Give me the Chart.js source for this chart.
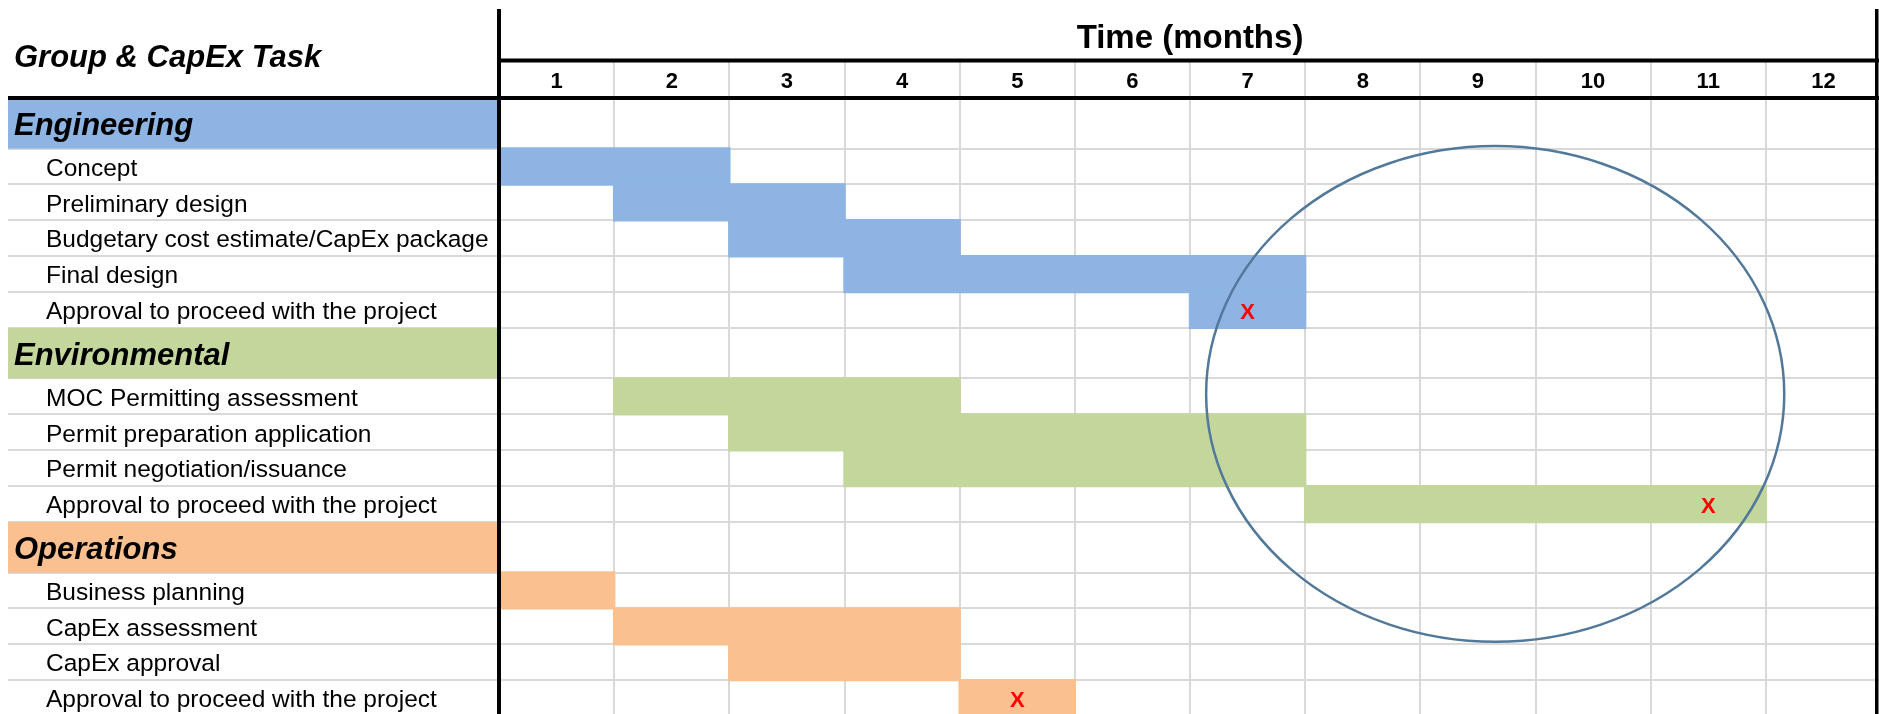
<!DOCTYPE html>
<html>
<head>
<meta charset="utf-8">
<script src="https://cdn.jsdelivr.net/npm/chart.js@4.4.1/dist/chart.umd.min.js"></script>
<style>
  html, body { margin: 0; padding: 0; background: #ffffff; overflow: hidden; }
  #wrap { width: 1881px; height: 716px; }
</style>
</head>
<body>
<div id="wrap"><canvas id="c" width="1881" height="716"></canvas></div>
<script>
// ---------------- data ----------------
const monthLabels = ['1', '2', '3', '4', '5', '6', '7', '8', '9', '10', '11', '12'];
const tableTitle = 'Group & CapEx Task';
const timeTitle = 'Time (months)';

const groupNames = ['Engineering', 'Environmental', 'Operations'];

const engineeringTasks = ['Concept', 'Preliminary design', 'Budgetary cost estimate/CapEx package', 'Final design', 'Approval to proceed with the project'];
const engineeringStart = [0, 1, 2, 3, 6];
const engineeringEnd   = [2, 3, 4, 7, 7];

const environmentalTasks = ['MOC Permitting assessment', 'Permit preparation application', 'Permit negotiation/issuance', 'Approval to proceed with the project'];
const environmentalStart = [1, 2, 3, 7];
const environmentalEnd   = [4, 7, 7, 11];

const operationsTasks = ['Business planning', 'CapEx assessment', 'CapEx approval', 'Approval to proceed with the project'];
const operationsStart = [0, 1, 2, 4];
const operationsEnd   = [1, 4, 4, 5];

// month (1-based) in which each group's approval milestone "X" sits
const approvalMarkerMonths = [7, 11, 5];
const markerText = 'X';

// ---------------- styling ----------------
const FONT = '"Liberation Sans", Arial, sans-serif';
const groupColors = ['#8DB4E2', '#C3D69B', '#FAC090'];
const GRID = '#D9D9D9';
const GROUP_ROW = 1.41;   // relative height of a group header row
const TASK_ROW = 1;

// ---------------- row layout built from the data ----------------
const taskNames = [engineeringTasks, environmentalTasks, operationsTasks];
const taskStarts = [engineeringStart, environmentalStart, operationsStart];
const taskEnds = [engineeringEnd, environmentalEnd, operationsEnd];

let cursor = 0;
const rowBoundaries = [0];
const groupSpans = [];
const groupCenters = [];
const taskCenters = [];
const taskLabels = [];
const barsByGroup = [];
const markerPoints = [];
groupNames.forEach((g, gi) => {
  groupSpans.push([cursor, cursor + GROUP_ROW]);
  groupCenters.push(cursor + GROUP_ROW / 2);
  cursor += GROUP_ROW;
  rowBoundaries.push(cursor);
  const bars = [];
  taskNames[gi].forEach((t, ti) => {
    const c = cursor + TASK_ROW / 2;
    taskCenters.push(c);
    taskLabels.push(t);
    bars.push({ x: [taskStarts[gi][ti], taskEnds[gi][ti]], y: c });
    if (ti === taskNames[gi].length - 1) {
      markerPoints.push({ x: approvalMarkerMonths[gi] - 0.5, y: c });
    }
    cursor += TASK_ROW;
    rowBoundaries.push(cursor);
  });
  barsByGroup.push(bars);
});
const totalRows = cursor;
const monthBoundaries = monthLabels.map((m, i) => i).concat([monthLabels.length]);
const monthCenters = monthLabels.map((m, i) => i + 0.5);

// ---------------- datasets ----------------
const datasets = groupNames.map((g, gi) => ({
  type: 'bar',
  label: g,
  data: barsByGroup[gi],
  backgroundColor: groupColors[gi],
  borderWidth: 0,
  borderSkipped: false,
  inflateAmount: 1.2,
  grouped: false,
  categoryPercentage: 1,
  barPercentage: 1,
  xAxisID: 'x',
  yAxisID: 'y'
}));
datasets.push({
  type: 'scatter',
  label: 'Approval',
  data: markerPoints,
  pointRadius: 0,
  pointHoverRadius: 0,
  xAxisID: 'x',
  yAxisID: 'y'
});
const markerDatasetIndex = datasets.length - 1;

// fixed axis box sizes; no auto label padding around the plot area
function fixBox(w, h) {
  return s => {
    if (w !== null) s.width = w;
    if (h !== null) s.height = h;
    s.paddingLeft = 0; s.paddingRight = 0; s.paddingTop = 0; s.paddingBottom = 0;
  };
}

// ---------------- decoration plugin ----------------
const ganttDecor = {
  id: 'ganttDecor',
  beforeDatasetsDraw(chart) {
    const { ctx, chartArea } = chart;
    const y = chart.scales.y;
    ctx.save();
    groupSpans.forEach((span, i) => {
      const top = y.getPixelForValue(span[0]);
      const bot = y.getPixelForValue(span[1]);
      ctx.fillStyle = groupColors[i];
      ctx.fillRect(8, top, chartArea.left - 2 - 8, bot - top);
    });
    ctx.restore();
  },
  afterDatasetsDraw(chart) {
    const { ctx } = chart;
    const x = chart.scales.x;
    const y = chart.scales.y;
    ctx.save();
    // milestone X marks
    ctx.fillStyle = '#FF0000';
    ctx.font = 'bold 22px ' + FONT;
    ctx.textAlign = 'center';
    ctx.textBaseline = 'middle';
    chart.getDatasetMeta(markerDatasetIndex).data.forEach(pt => {
      ctx.fillText(markerText, pt.x, pt.y + 2.5);
    });
    // highlight ellipse (month / row units)
    const e = { month: 8.65, row: 8.25, halfMonths: 2.51, halfRows: 6.91 };
    const cx = x.getPixelForValue(e.month);
    const cy = y.getPixelForValue(e.row);
    const rx = x.getPixelForValue(e.month + e.halfMonths) - cx;
    const ry = y.getPixelForValue(e.row + e.halfRows) - cy;
    ctx.beginPath();
    ctx.ellipse(cx, cy, Math.abs(rx), Math.abs(ry), 0, 0, Math.PI * 2);
    ctx.strokeStyle = '#52789A';
    ctx.lineWidth = 2.5;
    ctx.stroke();
    ctx.restore();
  },
  afterDraw(chart) {
    const { ctx, chartArea, width, height } = chart;
    ctx.save();
    ctx.fillStyle = '#000000';
    // line under the month header, across the whole table
    ctx.fillRect(8, chartArea.top - 2, width - 8, 4);
    // line between "Time (months)" and month numbers
    ctx.fillRect(chartArea.left - 2, 58.5, width - chartArea.left + 2, 4);
    // left divider
    ctx.fillRect(chartArea.left - 2, 9, 4, height - 9);
    // right border
    ctx.fillRect(1875, 9, 3.5, height - 9);
    // table title
    ctx.font = 'italic bold 31px ' + FONT;
    ctx.textAlign = 'left';
    ctx.textBaseline = 'middle';
    ctx.fillText(tableTitle, 14, 58);
    ctx.restore();
  }
};

// ---------------- chart ----------------
new Chart(document.getElementById('c'), {
  type: 'bar',
  data: { datasets },
  options: {
    indexAxis: 'y',
    responsive: false,
    devicePixelRatio: 1,
    animation: false,
    events: [],
    layout: { padding: { left: 14, right: 0, top: 0, bottom: 0 }, autoPadding: false },
    plugins: {
      legend: { display: false },
      tooltip: { enabled: false },
      title: { display: false }
    },
    scales: {
      xm: {
        type: 'linear', position: 'top', weight: 2,
        min: 0, max: monthLabels.length, offset: false,
        afterBuildTicks: s => { s.ticks = monthCenters.map(v => ({ value: v })); },
        ticks: {
          callback: (v, i) => monthLabels[i],
          autoSkip: false, maxRotation: 0, minRotation: 0,
          mirror: true, padding: 69,
          color: '#000000', font: { family: FONT, size: 22, weight: 'bold' }
        },
        grid: { display: false, drawTicks: false, offset: false },
        border: { display: false },
        afterFit: fixBox(null, 0)
      },
      x: {
        type: 'linear', position: 'top', weight: 1,
        min: 0, max: monthLabels.length, offset: false,
        afterBuildTicks: s => { s.ticks = monthBoundaries.map(v => ({ value: v })); },
        ticks: { display: false },
        grid: { color: GRID, lineWidth: 2, drawTicks: true, tickLength: 38, tickColor: GRID, tickWidth: 2, offset: false },
        border: { display: false },
        title: {
          display: true, text: timeTitle, color: '#000000',
          font: { family: FONT, size: 33, weight: 'bold' },
          padding: { top: 19, bottom: 0 }
        },
        afterFit: fixBox(null, 98)
      },
      yGroup: {
        type: 'linear', position: 'left', weight: 2, reverse: true,
        min: 0, max: totalRows, offset: false,
        afterBuildTicks: s => { s.ticks = groupCenters.map(v => ({ value: v })); },
        ticks: {
          callback: (v, i) => groupNames[i],
          autoSkip: false, mirror: true, crossAlign: 'near', z: 1, padding: 0, labelOffset: 3,
          color: '#000000', font: { family: FONT, size: 31, weight: 'bold', style: 'italic' }
        },
        grid: { display: false, drawTicks: false, offset: false },
        border: { display: false },
        afterFit: fixBox(0, null)
      },
      yTask: {
        type: 'linear', position: 'left', weight: 1, reverse: true,
        min: 0, max: totalRows, offset: false,
        afterBuildTicks: s => { s.ticks = taskCenters.map(v => ({ value: v })); },
        ticks: {
          callback: (v, i) => taskLabels[i],
          autoSkip: false, mirror: true, crossAlign: 'near', z: 1, padding: 0, labelOffset: 2.5,
          color: '#000000', font: { family: FONT, size: 24.5 }
        },
        grid: { display: false, drawTicks: false, offset: false },
        border: { display: false },
        afterFit: fixBox(32, null)
      },
      y: {
        type: 'linear', position: 'left', weight: 0, reverse: true,
        min: 0, max: totalRows, offset: false,
        afterBuildTicks: s => { s.ticks = rowBoundaries.map(v => ({ value: v })); },
        ticks: { display: false },
        grid: { color: GRID, lineWidth: 2, drawTicks: true, tickLength: 491, tickColor: GRID, tickWidth: 2, offset: false },
        border: { display: false },
        afterFit: fixBox(453, null)
      }
    }
  },
  plugins: [ganttDecor]
});
</script>
</body>
</html>
